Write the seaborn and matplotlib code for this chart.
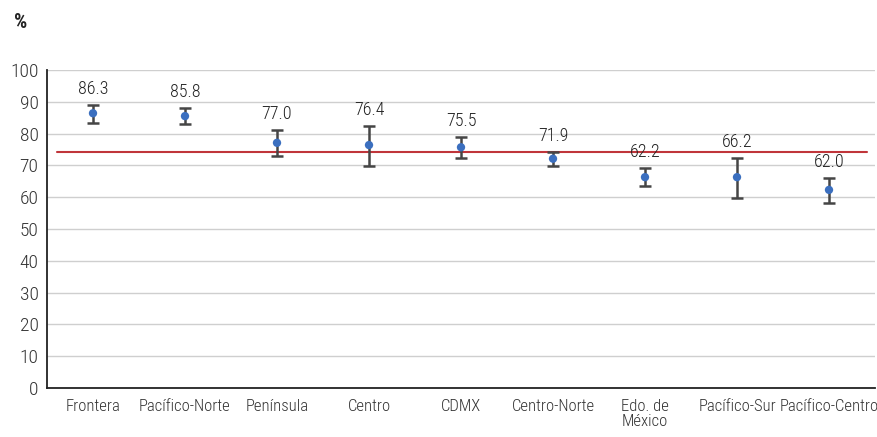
import numpy as np
import pandas as pd
import matplotlib.pyplot as plt
import seaborn as sns
from matplotlib import font_manager

# Data
regions = ['Frontera', 'Pacífico-Norte', 'Península', 'Centro', 'CDMX',
           'Centro-Norte', 'Edo. de\nMéxico', 'Pacífico-Sur', 'Pacífico-Centro']
point = [86.4, 85.5, 77.1, 76.4, 75.7, 72.1, 66.3, 66.3, 62.3]
upper = [89.0, 88.0, 81.1, 82.3, 78.8, 74.2, 69.2, 72.3, 66.1]
lower = [83.4, 83.0, 73.0, 69.8, 72.3, 69.8, 63.5, 59.7, 58.1]
labels = ['86.3', '85.8', '77.0', '76.4', '75.5', '71.9', '62.2', '66.2', '62.0']
national = 74.2

df = pd.DataFrame({'region': regions, 'pos': range(len(regions)),
                   'value': point, 'lo': lower, 'hi': upper})

sns.set_style('white')

# condensed font if there is one, otherwise a plain sans at a smaller size
names = {f.name for f in font_manager.fontManager.ttflist}
condensed = [n for n in ['Liberation Sans Narrow', 'Roboto Condensed',
                         'Open Sans Condensed', 'DejaVu Sans Condensed'] if n in names]
if condensed:
    plt.rcParams['font.family'] = [condensed[0], 'DejaVu Sans']
    fs_tick, fs_cat, fs_lab = 14, 12, 13
else:
    plt.rcParams['font.family'] = ['Liberation Sans', 'DejaVu Sans']
    fs_tick, fs_cat, fs_lab = 13, 11, 12
plt.rcParams['font.weight'] = 'light'

fig = plt.figure(figsize=(8.77, 4.37), dpi=100)
ax = fig.add_axes([47 / 877, 1 - 388 / 437, 828 / 877, 318 / 437])

# error bars
yerr = np.array([df['value'] - df['lo'], df['hi'] - df['value']])
ax.errorbar(df['pos'], df['value'], yerr=yerr, fmt='none', ecolor='#454545',
            elinewidth=1.8, capsize=4, capthick=1.8, zorder=3)
sns.scatterplot(data=df, x='pos', y='value', color='#3B6FBF', s=36,
                edgecolor='none', zorder=4, ax=ax, legend=False)

# national reference line
ax.axhline(national, xmin=0.012, xmax=0.99, color='#C0353A', lw=1.5, zorder=2)

for x, top, txt in zip(df['pos'], df['hi'], labels):
    ax.annotate(txt, (x, top), xytext=(0, 11.5), textcoords='offset points',
                ha='center', va='center', fontsize=fs_lab, color='#222222')

ax.set_xlim(-0.5, len(regions) - 0.5)
ax.set_ylim(0, 100)
ax.set_yticks(range(0, 101, 10))
ax.set_yticklabels([str(v) for v in range(0, 101, 10)], fontsize=fs_tick, color='#333333')
ax.set_xticks(range(len(regions)))
ax.set_xticklabels(regions, fontsize=fs_cat, color='#333333', linespacing=0.95)
ax.set_xticks(np.arange(-0.5, len(regions)), minor=True)
ax.tick_params(axis='x', which='major', length=0, pad=8)
ax.tick_params(axis='x', which='minor', direction='in', length=6, width=1.2, color='#222222')
ax.tick_params(axis='y', length=0, pad=6)
ax.grid(axis='y', color='#CFCFCF', lw=1)
ax.set_axisbelow(True)
ax.set_xlabel('')
ax.set_ylabel('')
for s in ['top', 'right']:
    ax.spines[s].set_visible(False)
for s in ['left', 'bottom']:
    ax.spines[s].set_color('#222222')
    ax.spines[s].set_linewidth(1.3)

fig.text(14 / 877, 1 - 22 / 437, '%', fontsize=15, fontweight='bold',
         color='#222222', va='center')

fig.savefig('out.png', dpi=100)
